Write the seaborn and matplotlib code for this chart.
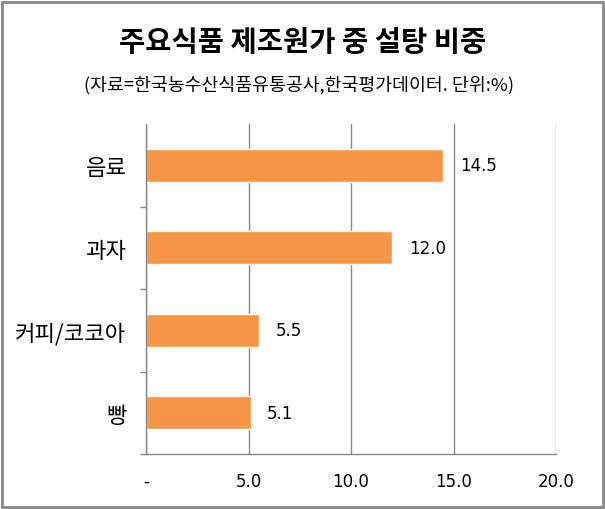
import matplotlib
matplotlib.use("Agg")
import matplotlib.pyplot as plt
import seaborn as sns
import pandas as pd
from matplotlib.patches import Rectangle
from matplotlib.ticker import FixedLocator, FuncFormatter

categories = ["음료", "과자", "커피/코코아", "빵"]
values = [14.5, 12.0, 5.5, 5.1]
xticks = [0, 5, 10, 15, 20]
title = "주요식품 제조원가 중 설탕 비중"
subtitle = "(자료=한국농수산식품유통공사,한국평가데이터. 단위:%)"

sns.set_theme(style="white")
plt.rcParams["font.family"] = ["Noto Sans CJK KR", "DejaVu Sans"]

df = pd.DataFrame({"category": categories, "value": values})

fig = plt.figure(figsize=(6.05, 5.10), dpi=100)
ax = fig.add_axes([146/605, 1-455/510, (556-146)/605, (455-125)/510])

sns.barplot(data=df, x="value", y="category", orient="h", color="#F79646",
            width=0.4, saturation=1, ax=ax)

gray = "#868686"
ax.set_xlim(0, 20)
ax.set_ylim(3.5, -0.5)
ax.set_xlabel("")
ax.set_ylabel("")
ax.set_xticks(xticks)
ax.xaxis.set_major_formatter(FuncFormatter(lambda v, p: "-" if v == 0 else f"{v:.1f}"))
ax.grid(axis="x", color=gray, linewidth=1)
ax.set_axisbelow(True)
for s in ["top", "right"]:
    ax.spines[s].set_visible(False)
for s in ["left", "bottom"]:
    ax.spines[s].set_color(gray)
    ax.spines[s].set_linewidth(1)

ax.tick_params(axis="x", which="major", direction="out", length=6, width=1,
               color=gray, pad=7, labelsize=12, labelcolor="black")
for lab in ax.get_xticklabels():
    lab.set_family("DejaVu Sans")
ax.yaxis.set_minor_locator(FixedLocator([0.5, 1.5, 2.5, 3.5]))
ax.tick_params(axis="y", which="minor", direction="out", length=4.5, width=1, color=gray, left=True)
ax.tick_params(axis="y", which="major", length=0, pad=14, labelsize=16, labelcolor="black")

for c in ax.containers:
    labels = ax.bar_label(c, labels=[f"{v:.1f}" for v in values], padding=12,
                          fontsize=12, color="black")
    for t in labels:
        t.set_family("DejaVu Sans")

fig.text(0.5, 1-43/510, title, ha="center", va="center", fontsize=20.5,
         fontweight="bold", color="black")
fig.text(0.495, 1-85/510, subtitle, ha="center", va="center", fontsize=13.2, color="black")

fig.add_artist(Rectangle((2/605, 2/510), 1-4.5/605, 1-4.5/510, transform=fig.transFigure,
                         fill=False, edgecolor="#888888", linewidth=2))

fig.savefig("out.png", dpi=100)
